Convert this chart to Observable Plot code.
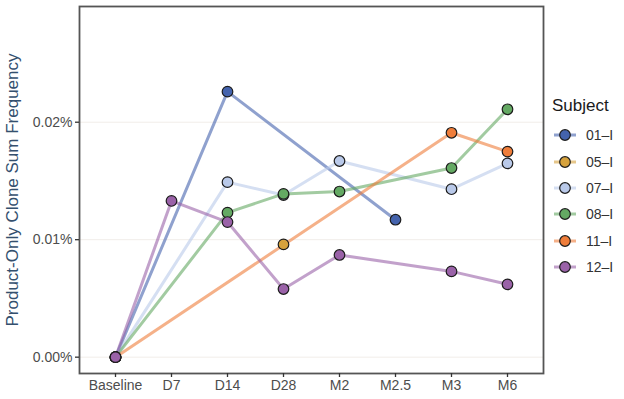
<!DOCTYPE html>
<html>
<head>
<meta charset="utf-8">
<script src="https://cdn.jsdelivr.net/npm/d3@7"></script>
<script src="https://cdn.jsdelivr.net/npm/@observablehq/plot@0.6"></script>
<style>
  html, body { margin: 0; padding: 0; background: #fff; }
  #wrap { position: relative; width: 624px; height: 399px; font-family: "Liberation Sans", Arial, sans-serif; }
  #legend { position: absolute; left: 552px; top: 96px; color: #222; }
  #legend .title { font-size: 17px; line-height: 20px; height: 26px; color: #1a1a1a; }
  #legend .item { display: flex; align-items: center; height: 26.4px; font-size: 14px; color: #333; }
  #legend svg { display: block; margin-right: 9px; }
</style>
</head>
<body>
<div id="wrap"></div>
<script>
// ---- data (values in percent) ----
const timepoints = ["Baseline", "D7", "D14", "D28", "M2", "M2.5", "M3", "M6"];
const subjects = ["01–I", "05–I", "07–I", "08–I", "11–I", "12–I"];
const subjectColors = ["#4463ad", "#d6a23d", "#b9c9e9", "#64a963", "#ef7d3a", "#9a62a8"];

//                Baseline  D7      D14     D28     M2      M2.5    M3      M6
const s01 = [0,      null,   0.0226, null,   null,   0.0117, null,   null];
const s05 = [null,   null,   null,   0.0096, null,   null,   null,   null];
const s07 = [0,      null,   0.0149, 0.0138, 0.0167, null,   0.0143, 0.0165];
const s08 = [0,      null,   0.0123, 0.0139, 0.0141, null,   0.0161, 0.0211];
const s11 = [0,      null,   null,   null,   null,   null,   0.0191, 0.0175];
const s12 = [0,      0.0133, 0.0115, 0.0058, 0.0087, null,   0.0073, 0.0062];
const seriesValues = [s01, s05, s07, s08, s11, s12];

const yTicks = [0, 0.01, 0.02];
const yTickLabels = ["0.00%", "0.01%", "0.02%"];

// ---- long table ----
const rows = [];
subjects.forEach((s, i) => {
  seriesValues[i].forEach((v, j) => {
    if (v != null) rows.push({subject: s, time: timepoints[j], value: v});
  });
});

const chart = Plot.plot({
  width: 624,
  height: 399,
  marginLeft: 79,
  marginRight: 81,
  marginTop: 6,
  marginBottom: 26,
  style: {fontFamily: "Liberation Sans, Arial, sans-serif", fontSize: "14px", color: "#4d4d4d", background: "#fff"},
  x: {type: "point", domain: timepoints, padding: 0.6},
  y: {domain: [-0.00139, 0.02985]},
  color: {domain: subjects, range: subjectColors},
  marks: [
    Plot.gridY(yTicks, {stroke: "#f1ede9", strokeOpacity: 1, strokeWidth: 1}),
    Plot.line(rows, {x: "time", y: "value", z: "subject", stroke: "subject", strokeOpacity: 0.6, strokeWidth: 3, curve: "linear"}),
    Plot.dot(rows, {x: "time", y: "value", fill: "subject", stroke: "#1c1c1c", strokeWidth: 1.2, r: 5.3}),
    Plot.frame({stroke: "#555", strokeWidth: 1.8}),
    Plot.axisY(yTicks, {
      tickFormat: (d, i) => yTickLabels[i],
      tickSize: 4, tickPadding: 3, stroke: "#333", strokeWidth: 1.3,
      fontSize: 14, fill: "#4d4d4d",
      label: "Product-Only Clone Sum Frequency", labelAnchor: "center", labelArrow: "none", labelOffset: 74
    }),
    Plot.axisX({
      tickSize: 4, tickPadding: 3, stroke: "#333", strokeWidth: 1.3,
      fontSize: 14, fill: "#4d4d4d", label: null
    })
  ]
});

// restyle y-axis title
d3.select(chart).selectAll("g[aria-label='y-axis label'] text")
  .style("font-size", "17px").attr("fill", "#34506e");

const wrap = document.getElementById("wrap");
wrap.appendChild(chart);

// ---- legend ----
const legend = d3.select(wrap).append("div").attr("id", "legend");
legend.append("div").attr("class", "title").text("Subject");
subjects.forEach((s, i) => {
  const item = legend.append("div").attr("class", "item");
  const svg = item.append("svg").attr("width", 25).attr("height", 14);
  svg.append("line").attr("x1", 2).attr("x2", 24).attr("y1", 7).attr("y2", 7)
    .attr("stroke", subjectColors[i]).attr("stroke-opacity", 0.6).attr("stroke-width", 3);
  svg.append("circle").attr("cx", 13).attr("cy", 7).attr("r", 5.3)
    .attr("fill", subjectColors[i]).attr("stroke", "#1c1c1c").attr("stroke-width", 1.2);
  item.append("span").text(s);
});
</script>
</body>
</html>
